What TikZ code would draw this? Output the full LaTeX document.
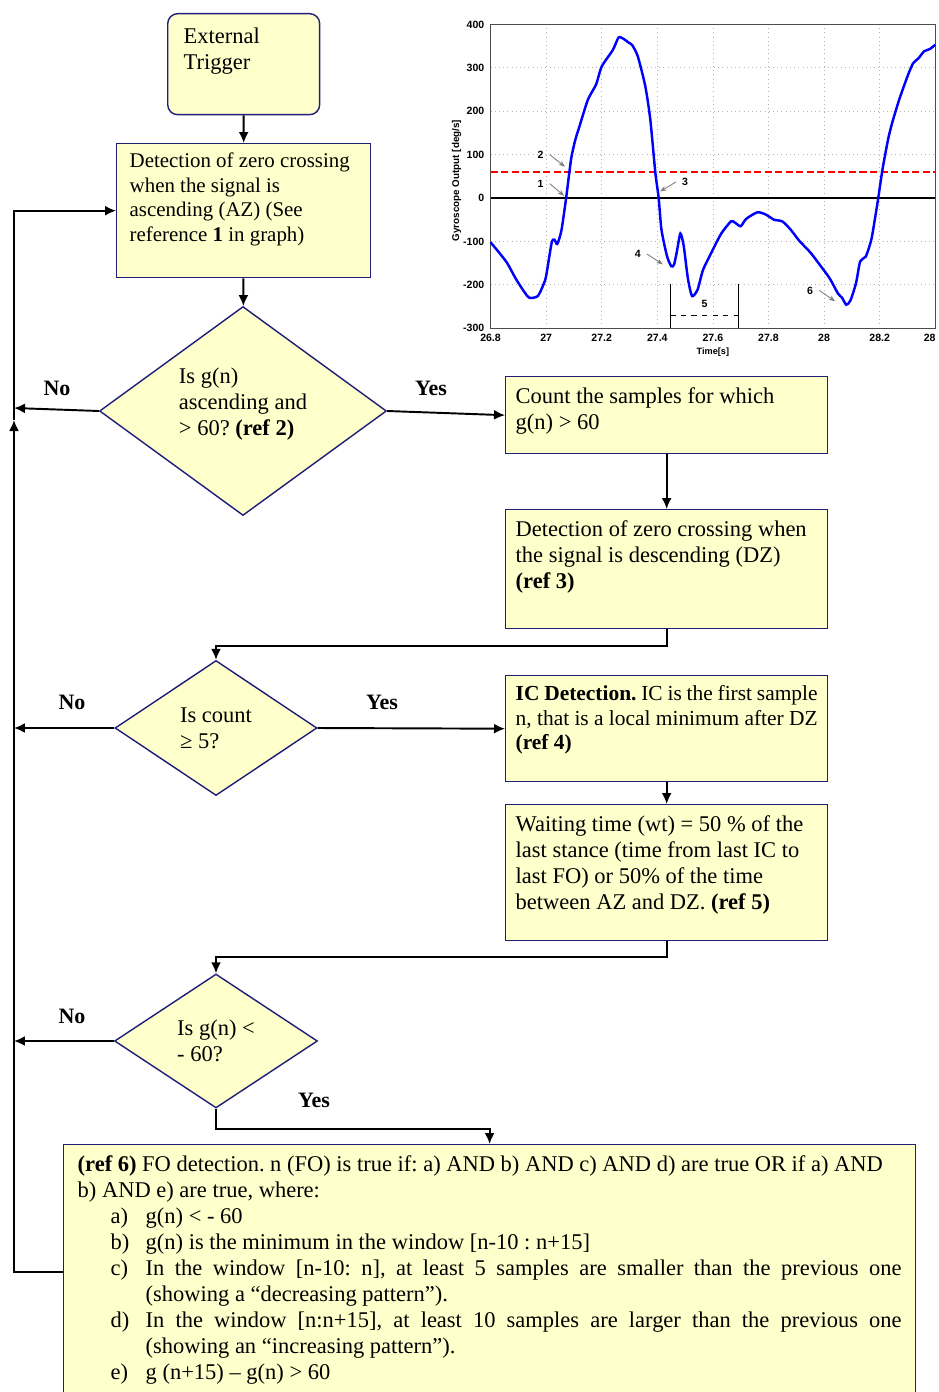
\documentclass[tikz,border=0pt]{standalone}
\usepackage{fontspec}
\setmainfont{Liberation Serif}
\setsansfont{Liberation Sans}
\usetikzlibrary{arrows.meta,shapes.geometric,positioning}
\frenchspacing

\definecolor{boxfill}{RGB}{255,255,204}
\definecolor{boxline}{RGB}{30,30,120}

\newcommand{\foitem}[2]{\par\hangindent=1.36cm\hangafter=1\noindent\hspace*{0.66cm}\makebox[0.7cm][l]{#1}#2}

\begin{document}
\begin{tikzpicture}[x=0.02cm, y=-0.02cm,
    font=\fontsize{12.8}{14.8}\selectfont,
    procbox/.style={draw=boxline, fill=boxfill, line width=0.8pt, anchor=north west,
        align=flush left, inner xsep=0.2cm, inner ysep=0pt},
    decision/.style={diamond, draw=boxline, fill=boxfill, line width=0.8pt, align=flush left, inner sep=0pt},
    flow/.style={-{Latex[length=2.2mm,width=2mm]}, line width=1.1pt},
    answer/.style={font=\fontsize{12.5}{14}\selectfont\bfseries},
    tick/.style={font=\fontsize{6}{7}\sffamily\bfseries},
    marker/.style={-{Stealth[length=1.3mm]}, gray, line width=0.5pt}]

    \useasboundingbox (0,0) rectangle (939,1392);

    % flow chart
    \node[procbox, rounded corners=0.2cm, inner xsep=0.32cm, text width=2.4cm, text height=0.6cm, text depth=1.42cm] (trig) at (167,13) {External\\Trigger};

    \node[procbox, font=\fontsize{11.9}{14}\selectfont, inner xsep=0.26cm, text width=4.56cm, text height=0.48cm, text depth=2.2cm] (azbox) at (116,143)
        {Detection of zero crossing\\when the signal is\\ascending (AZ) (See\\reference \textbf{1} in graph)};

    \node[decision, minimum width=5.74cm, minimum height=4.18cm, aspect=1.37, text depth=0.37cm] (q1) at (243,411) {Is g(n)\\ascending and\\> 60? \textbf{(ref 2)}};

    \node[procbox, text width=6.04cm, text height=0.54cm, text depth=1.0cm] (countbox) at (505,376) {Count the samples for which\\g(n) > 60};
    \node[procbox, text width=6.04cm, text height=0.54cm, text depth=1.84cm] (dzbox) at (505,509)
        {Detection of zero crossing when\\the signal is descending (DZ)\\\textbf{(ref 3)}};

    \node[decision, minimum width=4.04cm, minimum height=2.7cm, aspect=1.5] (q2) at (216,728) {Is count\\≥ 5?};

    \node[procbox, font=\fontsize{12.2}{14}\selectfont, text width=6.04cm, text height=0.5cm, text depth=1.62cm] (icbox) at (505,675)
        {\textbf{IC Detection.} IC is the first sample\\n, that is a local minimum after DZ\\\textbf{(ref 4)}};
    \node[procbox, text width=6.04cm, text height=0.54cm, text depth=2.18cm] (waitbox) at (505,804)
        {Waiting time (wt) = 50 \% of the\\last stance (time from last IC to\\last FO) or 50\% of the time\\between AZ and DZ. \textbf{(ref 5)}};

    \node[decision, minimum width=4.06cm, minimum height=2.68cm, aspect=1.5] (q3) at (216,1041) {Is g(n) <\\- 60?};

    \node[procbox, align=justify, inner xsep=0.28cm, text width=16.48cm, text height=0.54cm, text depth=5.2cm] (fobox) at (63,1144)
        {\textbf{(ref 6)} FO detection. n (FO) is true if: a) AND b) AND c) AND d) are true OR if a) AND\newline
        b) AND e) are true, where:
        \foitem{a)}{g(n) < - 60}
        \foitem{b)}{g(n) is the minimum in the window [n-10 : n+15]}
        \foitem{c)}{In the window [n-10: n], at least 5 samples are smaller than the previous one\linebreak (showing a “decreasing pattern”).}
        \foitem{d)}{In the window [n:n+15], at least 10 samples are larger than the previous one\linebreak (showing an “increasing pattern”).}
        \foitem{e)}{g (n+15) -- g(n) > 60}};

    \node[answer] (no1) at (57,388) {No};
    \node[answer] (yes1) at (431,388) {Yes};
    \node[answer] (no2) at (72,702) {No};
    \node[answer] (yes2) at (382,702) {Yes};
    \node[answer] (no3) at (72,1016) {No};
    \node[answer] (yes3) at (314,1100) {Yes};

    \coordinate (q1no) at (14,408);
    \coordinate (q2no) at (14,728);
    \coordinate (q3no) at (14,1041);
    \coordinate (loopup) at (14,420);
    \coordinate (foout) at ([yshift=-2.56cm]fobox.north west);

    \draw[flow] (trig) -- (azbox);
    \draw[flow] (azbox) -- (q1);
    \draw[flow] (q1.east) -- (countbox.west);
    \draw[flow] (q1.west) -- (q1no);
    \draw[flow] (countbox) -- (dzbox);
    \draw[flow] (dzbox.south) -- ++(0,17) -| (q2.north);
    \draw[flow] (q2.east) -- (icbox.west);
    \draw[flow] (q2.west) -- (q2no);
    \draw[flow] (icbox) -- (waitbox);
    \draw[flow] (waitbox.south) -- ++(0,16) -| (q3.north);
    \draw[flow] (q3.west) -- (q3no);
    \draw[flow] (q3.south) -- ++(0,20) -| (fobox.north);
    \draw[flow] (foout) -- (foout -| loopup) -- (loopup);
    \draw[flow] (loopup) -- (loopup |- azbox.west) -- (azbox.west);

    % gyroscope plot
    \begin{scope}[shift={(-6958.4,198)}, x=5.56cm, y=0.00868cm]
        \foreach \t in {27,27.2,27.4,27.6,27.8,28,28.2}
            \draw[gray!60, dotted, line width=0.4pt] (\t,-300) -- (\t,400);
        \foreach \v in {-200,-100,100,200,300}
            \draw[gray!60, dotted, line width=0.4pt] (26.8,\v) -- (28.4,\v);
        \draw[black!70, line width=0.5pt] (26.8,-300) rectangle (28.4,400);

        \draw[red, line width=1.2pt, dash pattern=on 4pt off 2pt] (26.8,60) -- (28.4,60);
        \draw[line width=1.3pt] (26.8,0) -- (28.4,0);

        \draw[blue, line width=1.4pt] plot[smooth, tension=0.4] coordinates {
            (26.8,-102) (26.83,-125) (26.86,-150) (26.89,-185) (26.92,-215) (26.94,-230)
            (26.97,-226) (26.99,-200) (27.0,-180) (27.02,-103) (27.03,-96) (27.04,-106)
            (27.055,-75) (27.072,0) (27.09,90) (27.105,134) (27.12,165) (27.15,226)
            (27.18,262) (27.2,303) (27.24,341) (27.261,370) (27.28,366) (27.297,358)
            (27.31,352) (27.33,326) (27.357,257) (27.375,180) (27.393,58) (27.405,0)
            (27.415,-73) (27.435,-134) (27.45,-157) (27.46,-154) (27.47,-125) (27.483,-82)
            (27.495,-110) (27.51,-185) (27.525,-226) (27.545,-211) (27.565,-165) (27.6,-119)
            (27.63,-82) (27.665,-54) (27.68,-57) (27.7,-65) (27.72,-48) (27.76,-33)
            (27.79,-38) (27.82,-50) (27.85,-54) (27.88,-73) (27.91,-98) (27.95,-125)
            (27.98,-150) (28.02,-185) (28.05,-220) (28.065,-230) (28.08,-246) (28.095,-236)
            (28.115,-196) (28.13,-146) (28.15,-135) (28.17,-96) (28.185,-40) (28.195,0)
            (28.21,65) (28.23,134) (28.245,173) (28.27,226) (28.3,280) (28.32,310)
            (28.34,322) (28.36,338) (28.38,343) (28.4,353)};

        \foreach \v in {-300,-200,...,400}
            \node[tick, anchor=east] at (26.8,\v) {\v};
        \foreach \t in {26.8,27,27.2,27.4,27.6,27.8,28,28.2}
            \node[tick, anchor=north] at (\t,-300) {\t};
        \node[tick, anchor=north] at (28.38,-300) {28};
        \node[tick, font=\fontsize{5.6}{6}\sffamily\bfseries, rotate=90] (ylabel) at (26.678,40) {Gyroscope Output [deg/s]};
        \node[tick, font=\fontsize{5.2}{6}\sffamily\bfseries] (xlabel) at (27.6,-355) {Time[s]};

        % numbered references
        \node[tick] (m1) at (26.98,33) {1};
        \node[tick] (m2) at (26.98,100) {2};
        \node[tick] (m3) at (27.50,37) {3};
        \node[tick] (m4) at (27.33,-129) {4};
        \node[tick] (m5) at (27.57,-244) {5};
        \node[tick] (m6) at (27.95,-213) {6};
        \draw[marker] (m1.east) -- (27.065,5);
        \draw[marker] (m2.east) -- (27.068,72);
        \draw[marker] (m3.west) -- (27.41,15);
        \draw[marker] (m4.east) -- (27.42,-153);
        \draw[marker] (m6.east) -- (28.04,-238);
        \draw[line width=0.6pt] (27.447,-199) -- (27.447,-300) (27.692,-199) -- (27.692,-300);
        \draw[dashed, line width=0.6pt] (27.447,-271) -- (27.692,-271);
    \end{scope}

\end{tikzpicture}
\end{document}
